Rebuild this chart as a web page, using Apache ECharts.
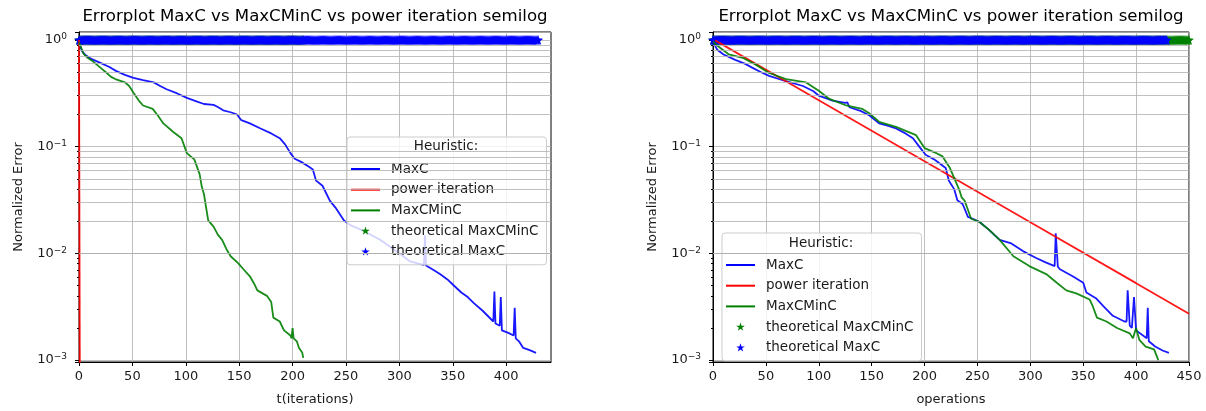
<!DOCTYPE html>
<html>
<head>
<meta charset="utf-8">
<script src="https://cdn.jsdelivr.net/npm/echarts@6/dist/echarts.min.js"></script>
<style>html,body{margin:0;padding:0;background:#fff}#c{width:1206px;height:411px}</style>
</head>
<body>
<div id="c"></div>
<script>
const FONT = 'DejaVu Sans';
const titleText = 'Errorplot MaxC vs MaxCMinC vs power iteration semilog';
const seriesNames = ['MaxC', 'power iteration', 'MaxCMinC', 'theoretical MaxCMinC', 'theoretical MaxC'];
const xTicksLeft = [0, 50, 100, 150, 200, 250, 300, 350, 400];
const xTicksRight = [0, 50, 100, 150, 200, 250, 300, 350, 400, 450];
const minorGrid = [0.002,0.003,0.004,0.005,0.006,0.007,0.008,0.009,0.02,0.03,0.04,0.05,0.06,0.07,0.08,0.09,0.2,0.3,0.4,0.5,0.6,0.7,0.8,0.9];

// Left chart: error vs iterations
const leftMaxC = [[0,0.93],[3,0.78],[6,0.72],[12,0.66],[20,0.61],[28,0.56],[35,0.51],[43,0.47],[51,0.44],[60,0.42],[70,0.40],[76,0.37],[82,0.345],[92,0.315],[101,0.286],[110,0.265],[117,0.251],[126,0.246],[130,0.235],[135,0.219],[142,0.21],[148,0.2],[152,0.177],[160,0.165],[170,0.148],[180,0.133],[188,0.12],[193,0.105],[198,0.087],[202,0.077],[208,0.072],[215,0.065],[219,0.061],[222,0.048],[228,0.043],[235,0.031],[240,0.027],[248,0.0204],[254,0.0184],[262,0.017],[270,0.0155],[282,0.0134],[290,0.0118],[300,0.010],[310,0.0084],[318,0.0080],[323,0.0078],[324,0.0148],[325,0.0077],[332,0.0070],[338,0.0064],[345,0.0057],[351,0.0050],[358,0.0043],[364,0.0039],[370,0.0034],[378,0.0029],[388,0.0023],[389,0.0044],[390,0.0022],[394,0.0021],[395,0.0039],[396,0.0019],[402,0.0018],[407,0.0017],[408,0.0031],[409,0.0016],[412,0.0015],[416,0.0013],[422,0.00124],[428,0.00117]];
const leftPower = [[0,1.0],[1,0.0001]];
const leftMaxCMinC = [[0,0.95],[4,0.75],[8,0.68],[13,0.63],[20,0.55],[26,0.49],[30,0.45],[34,0.43],[43,0.40],[47,0.37],[51,0.32],[56,0.27],[60,0.243],[69,0.226],[74,0.195],[79,0.165],[88,0.138],[96,0.12],[101,0.087],[108,0.076],[113,0.055],[115,0.042],[117,0.036],[119,0.027],[121,0.0204],[126,0.0178],[130,0.015],[134,0.0134],[138,0.011],[142,0.0094],[149,0.0081],[154,0.0071],[160,0.0061],[164,0.0052],[167,0.0045],[176,0.0040],[180,0.0035],[182,0.0025],[188,0.0023],[192,0.0019],[198,0.0017],[199,0.0016],[200,0.0020],[201,0.0016],[204,0.0015],[206,0.0013],[209,0.00118],[210,0.00105]];
const leftTheoMaxCMinCCount = 211;   // stars at every iteration, value 1
const leftTheoMaxCCount = 431;
const theoValue = 1;

// Right chart: error vs operations
const rightMaxC = [[0,0.95],[2,0.88],[4,0.81],[10,0.73],[21,0.65],[30,0.60],[37,0.55],[45,0.50],[53,0.46],[69,0.41],[85,0.37],[95,0.33],[100,0.30],[113,0.27],[125,0.257],[127,0.26],[129,0.234],[140,0.215],[148,0.196],[157,0.165],[165,0.157],[173,0.148],[182,0.133],[189,0.12],[195,0.10],[201,0.084],[210,0.075],[214,0.070],[220,0.063],[223,0.048],[228,0.040],[231,0.0315],[236,0.029],[241,0.022],[246,0.021],[252,0.0197],[261,0.0166],[271,0.0134],[282,0.0124],[293,0.0105],[305,0.0091],[315,0.0082],[323,0.0076],[324,0.0154],[326,0.0075],[328,0.0071],[340,0.0061],[350,0.0053],[353,0.0043],[362,0.0038],[369,0.0032],[378,0.0026],[389,0.0023],[391,0.0023],[392,0.0045],[394,0.0021],[396,0.0020],[398,0.0039],[400,0.0019],[410,0.0016],[411,0.0031],[412,0.0015],[418,0.00134],[425,0.00123],[431,0.00117]];
const rightPower = [[2,0.99],[100,0.272],[200,0.073],[300,0.0196],[400,0.00526],[450,0.00272]];
const rightMaxCMinC = [[0,0.97],[3,0.90],[7,0.84],[15,0.73],[28,0.68],[40,0.59],[53,0.49],[69,0.43],[88,0.40],[100,0.334],[110,0.28],[126,0.243],[141,0.226],[148,0.204],[157,0.171],[173,0.153],[192,0.128],[200,0.097],[210,0.088],[217,0.081],[224,0.063],[228,0.051],[233,0.039],[235,0.0335],[238,0.031],[244,0.0211],[252,0.0197],[261,0.0166],[271,0.0134],[284,0.0094],[299,0.0076],[315,0.0064],[325,0.0053],[334,0.0045],[344,0.0042],[356,0.0037],[359,0.0032],[363,0.0025],[372,0.0023],[382,0.0020],[394,0.00178],[397,0.0016],[400,0.0020],[403,0.00155],[409,0.00134],[417,0.00126],[421,0.0010]];
const rightTheoMaxCMinCCount = 461;
const rightTheoMaxCCount = 430;

const COLORS = {MaxC:'#0000ff', power:'#ff0000', MaxCMinC:'#008000'};
const STAR = 'path://M50,0 L61.8,35.1 L97.6,34.5 L68.5,56.3 L79.4,90.5 L50,69.5 L20.6,90.5 L31.5,56.3 L2.4,34.5 L38.2,35.1 Z';
const STAR_LEGEND = 'path://M-28,-28 M128,128 M50,0 L61.8,35.1 L97.6,34.5 L68.5,56.3 L79.4,90.5 L50,69.5 L20.6,90.5 L31.5,56.3 L2.4,34.5 L38.2,35.1 Z';
const LINE_LEGEND = 'path://M0,0 M0,6 L29,6 L29,8 L0,8 Z M29,14';

function stars(n) { const a = []; for (let i = 0; i < n; i++) a.push([i, theoValue]); return a; }
function logLabel(v) {
  const l = Math.log10(v), e = Math.round(l);
  if (Math.abs(l - e) > 1e-6) return '';
  return '{b|10}{s|' + String(e).replace('-', '\u2212') + '}';
}

const grids = [
  {left: 79, top: 32, width: 472, height: 336},
  {left: 713, top: 32, width: 476, height: 335}
];
const axisText = {fontFamily: FONT, fontSize: 13, color: '#1a1a1a'};

function xAxis(i, max, ticks, name) {
  return {
    type: 'value', gridIndex: i, min: 0, max: max, interval: 50,
    name: name, nameLocation: 'middle', nameGap: 31,
    nameTextStyle: {fontFamily: FONT, fontSize: 13, color: '#1a1a1a'},
    axisLine: {show: true, lineStyle: {color: '#000', width: 1}},
    axisTick: {show: true, length: 4, customValues: ticks, lineStyle: {color: '#000'}},
    axisLabel: Object.assign({customValues: ticks, margin: 8}, axisText),
    splitLine: {show: true, lineStyle: {color: '#b0b0b0', width: 0.8}}
  };
}
function yAxis(i) {
  return {
    type: 'log', logBase: 10, gridIndex: i, min: 0.00096, max: 1.186,
    name: 'Normalized Error', nameLocation: 'middle', nameGap: 54,
    nameTextStyle: {fontFamily: FONT, fontSize: 13, color: '#1a1a1a'},
    axisLine: {show: true, onZero: false, lineStyle: {color: '#000', width: 1}},
    axisTick: {show: true, length: 4, lineStyle: {color: '#000'}},
    minorTick: {show: true, splitNumber: 9, length: 2, lineStyle: {color: '#000'}},
    axisLabel: {
      formatter: logLabel, margin: 12, showMinLabel: false, showMaxLabel: false,
      rich: {
        b: {fontFamily: FONT, fontSize: 13, color: '#1a1a1a', lineHeight: 15},
        s: {fontFamily: FONT, fontSize: 9, color: '#1a1a1a', lineHeight: 8, verticalAlign: 'top'}
      }
    },
    splitLine: {show: true, lineStyle: {color: '#b0b0b0', width: 0.8}}
  };
}
function gridMarks() {
  return {
    silent: true, symbol: 'none', label: {show: false}, animation: false,
    lineStyle: {color: '#b0b0b0', width: 0.8, type: 'solid'},
    emphasis: {disabled: true},
    data: minorGrid.map(v => ({yAxis: v}))
  };
}
function lineSeries(i, name, data, color, withGrid) {
  const s = {
    type: 'line', name: name, xAxisIndex: i, yAxisIndex: i, data: data,
    showSymbol: false, symbol: 'none', animation: false,
    lineStyle: {color: color, width: 1.8, opacity: 0.9}, itemStyle: {color: color},
    emphasis: {disabled: true}
  };
  if (withGrid) s.markLine = gridMarks();
  return s;
}
function starSeries(i, name, data, color) {
  return {
    type: 'scatter', name: name, xAxisIndex: i, yAxisIndex: i, data: data,
    symbol: STAR, symbolSize: 10, animation: false,
    itemStyle: {color: color, opacity: 1}, emphasis: {disabled: true}
  };
}
function legend(left, top) {
  return {
    left: left, top: top, orient: 'vertical',
    padding: [25, 8, 6, 4], itemGap: 6.7, itemWidth: 29, itemHeight: 14,
    backgroundColor: 'rgba(255,255,255,0.8)', borderColor: '#cccccc', borderWidth: 1, borderRadius: 3,
    textStyle: {fontFamily: FONT, fontSize: 13.5, color: '#1a1a1a', padding: [0, 0, 0, 6]},
    selectedMode: false,
    data: [
      {name: seriesNames[0], icon: LINE_LEGEND}, {name: seriesNames[1], icon: LINE_LEGEND}, {name: seriesNames[2], icon: LINE_LEGEND},
      {name: seriesNames[3], icon: STAR_LEGEND}, {name: seriesNames[4], icon: STAR_LEGEND}
    ]
  };
}

const option = {
  backgroundColor: '#fff',
  animation: false,
  grid: grids.map(g => Object.assign({show: true, borderColor: '#000', borderWidth: 1, backgroundColor: 'transparent'}, g)),
  xAxis: [xAxis(0, 442, xTicksLeft, 't(iterations)'), xAxis(1, 450, xTicksRight, 'operations')],
  yAxis: [yAxis(0), yAxis(1)],
  legend: [legend(347, 137), legend(722, 233)],
  graphic: [
    {type: 'text', x: 315, y: 17, style: {text: titleText, font: '16.6px "DejaVu Sans"', fill: '#000', align: 'center', verticalAlign: 'middle'}},
    {type: 'text', x: 951, y: 17, style: {text: titleText, font: '16.6px "DejaVu Sans"', fill: '#000', align: 'center', verticalAlign: 'middle'}},
    {type: 'text', x: 446, y: 146, z: 100, style: {text: 'Heuristic:', font: '13.5px "DejaVu Sans"', fill: '#1a1a1a', align: 'center', verticalAlign: 'middle'}},
    {type: 'text', x: 821, y: 243, z: 100, style: {text: 'Heuristic:', font: '13.5px "DejaVu Sans"', fill: '#1a1a1a', align: 'center', verticalAlign: 'middle'}}
  ],
  series: [
    lineSeries(0, seriesNames[0], leftMaxC, COLORS.MaxC, true),
    lineSeries(0, seriesNames[1], leftPower, COLORS.power, false),
    lineSeries(0, seriesNames[2], leftMaxCMinC, COLORS.MaxCMinC, false),
    starSeries(0, seriesNames[3], stars(leftTheoMaxCMinCCount), COLORS.MaxCMinC),
    starSeries(0, seriesNames[4], stars(leftTheoMaxCCount), COLORS.MaxC),
    lineSeries(1, seriesNames[0], rightMaxC, COLORS.MaxC, true),
    lineSeries(1, seriesNames[1], rightPower, COLORS.power, false),
    lineSeries(1, seriesNames[2], rightMaxCMinC, COLORS.MaxCMinC, false),
    starSeries(1, seriesNames[3], stars(rightTheoMaxCMinCCount), COLORS.MaxCMinC),
    starSeries(1, seriesNames[4], stars(rightTheoMaxCCount), COLORS.MaxC)
  ]
};
const chart = echarts.init(document.getElementById('c'), null, {renderer: 'canvas'});
chart.setOption(option);
</script>
</body>
</html>
